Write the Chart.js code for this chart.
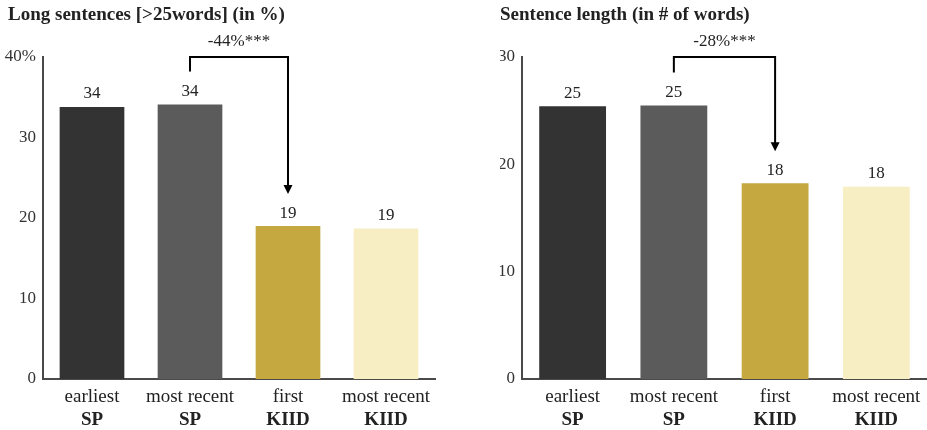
<!DOCTYPE html>
<html>
<head>
<meta charset="utf-8">
<script src="https://cdn.jsdelivr.net/npm/chart.js@4/dist/chart.umd.min.js"></script>
<style>
  html, body { margin: 0; padding: 0; background: #ffffff; }
  body { width: 927px; height: 430px; position: relative; overflow: hidden; }
  .panel { position: absolute; top: 0; height: 430px; }
  #leftPanel { left: 0; width: 440px; }
  #rightPanel { left: 500px; width: 427px; }
</style>
</head>
<body>
<div class="panel" id="leftPanel"><canvas id="longSentencesChart"></canvas></div>
<div class="panel" id="rightPanel"><canvas id="sentenceLengthChart"></canvas></div>

<script>
// Categories (two-line x labels)
const categoriesTop = ['earliest', 'most recent', 'first', 'most recent'];
const categoriesBottom = ['SP', 'SP', 'KIID', 'KIID'];

// Series values
const longSentencesPct = [33.8, 34.1, 19.0, 18.7];
const sentenceLengthWords = [25.4, 25.48, 18.24, 17.9];

// Y tick setup
const longSentencesTicks = [0, 10, 20, 30, 40];
const sentenceLengthTicks = [0, 10, 20, 30];

// Change annotations between most recent SP and first KIID
const longSentencesChange = '-44%***';
const sentenceLengthChange = '-28%***';

const barColors = ['#333333', '#5b5b5b', '#c5a83f', '#f8eec4'];
const axisColor = '#4a4a4a';
const textColor = '#222222';

Chart.defaults.font.family = "'Liberation Serif', 'DejaVu Serif', serif";
Chart.defaults.color = textColor;

// Panel title, drawn at a fixed left offset
const panelTitle = {
    id: 'panelTitle',
    afterDraw(chart, args, opts) {
        if (!opts || !opts.text) return;
        const ctx = chart.ctx;
        ctx.save();
        ctx.font = "bold 19px 'Liberation Serif', serif";
        ctx.fillStyle = textColor;
        ctx.textAlign = 'left';
        ctx.textBaseline = 'middle';
        ctx.fillText(opts.text, opts.x, 15);
        ctx.restore();
    }
};

// Value labels above bars
const valueLabels = {
    id: 'valueLabels',
    afterDatasetsDraw(chart) {
        const ctx = chart.ctx;
        const meta = chart.getDatasetMeta(0);
        const values = chart.data.datasets[0].data;
        ctx.save();
        ctx.font = "17px 'Liberation Serif', serif";
        ctx.fillStyle = textColor;
        ctx.textAlign = 'center';
        ctx.textBaseline = 'middle';
        meta.data.forEach((bar, i) => {
            ctx.fillText(String(Math.round(values[i])), bar.x, bar.y - 13);
        });
        ctx.restore();
    }
};

// Bracket with arrow from one bar to another
const bracket = {
    id: 'bracket',
    afterDatasetsDraw(chart, args, opts) {
        if (!opts || !opts.text) return;
        const ctx = chart.ctx;
        const meta = chart.getDatasetMeta(0);
        const a = meta.data[opts.from];
        const b = meta.data[opts.to];
        const top = chart.chartArea.top;
        const tipY = b.y - 32;
        ctx.save();
        ctx.strokeStyle = '#000000';
        ctx.fillStyle = '#000000';
        ctx.lineWidth = 2;
        ctx.beginPath();
        ctx.moveTo(a.x, a.y - 33);
        ctx.lineTo(a.x, top);
        ctx.lineTo(b.x, top);
        ctx.lineTo(b.x, tipY - 8);
        ctx.stroke();
        ctx.beginPath();
        ctx.moveTo(b.x - 4.5, tipY - 9);
        ctx.lineTo(b.x + 4.5, tipY - 9);
        ctx.lineTo(b.x, tipY);
        ctx.closePath();
        ctx.fill();

        ctx.font = "17px 'Liberation Serif', serif";
        ctx.fillStyle = textColor;
        ctx.textAlign = 'center';
        ctx.textBaseline = 'middle';
        ctx.fillText(opts.text, (a.x + b.x) / 2, top - 15);
        ctx.restore();
    }
};

function makeChart(canvasId, title, titleX, values, ticks, changeText, yAxisWidth, padRight, tickFormat) {
    const ctx = document.getElementById(canvasId);
    const maxTick = ticks[ticks.length - 1];

    return new Chart(ctx, {
        type: 'bar',
        data: {
            labels: categoriesTop,
            datasets: [{
                data: values,
                backgroundColor: barColors,
                borderWidth: 0,
                barPercentage: 0.66,
                categoryPercentage: 1
            }]
        },
        options: {
            responsive: true,
            maintainAspectRatio: false,
            animation: false,
            layout: {
                padding: { left: 0, right: padRight, top: 57, bottom: 0 }
            },
            plugins: {
                legend: { display: false },
                tooltip: { enabled: false },
                title: { display: false },
                panelTitle: { text: title, x: titleX },
                bracket: { text: changeText, from: 1, to: 2 }
            },
            scales: {
                x: {
                    offset: true,
                    weight: 0,
                    grid: { display: false, drawTicks: false },
                    border: { display: true, color: axisColor, width: 2 },
                    ticks: {
                        color: textColor,
                        padding: 6.6,
                        maxRotation: 0,
                        autoSkip: false,
                        font: { size: 19 }
                    },
                    afterFit(scale) { scale.height = 29; }
                },
                x2: {
                    type: 'category',
                    position: 'bottom',
                    labels: categoriesBottom,
                    offset: true,
                    weight: 1,
                    grid: { display: false, drawTicks: false },
                    border: { display: false },
                    ticks: {
                        color: textColor,
                        padding: 0.6,
                        maxRotation: 0,
                        autoSkip: false,
                        font: { size: 19, weight: 'bold' }
                    },
                    afterFit(scale) { scale.height = 22; }
                },
                y: {
                    min: 0,
                    max: maxTick,
                    grid: { display: false, drawTicks: false },
                    border: { display: true, color: axisColor, width: 2 },
                    afterBuildTicks(scale) {
                        scale.ticks = ticks.map(v => ({ value: v }));
                    },
                    ticks: {
                        color: '#333333',
                        padding: 7,
                        font: { size: 17 },
                        callback: tickFormat
                    },
                    afterFit(scale) { scale.width = yAxisWidth; }
                }
            }
        },
        plugins: [panelTitle, valueLabels, bracket]
    });
}

makeChart('longSentencesChart', 'Long sentences [>25words] (in %)', 8,
    longSentencesPct, longSentencesTicks, longSentencesChange, 43, 5,
    v => (v === 40 ? v + '%' : String(v)));

makeChart('sentenceLengthChart', 'Sentence length (in # of words)', 0,
    sentenceLengthWords, sentenceLengthTicks, sentenceLengthChange, 22, 0,
    v => String(v));
</script>
</body>
</html>
